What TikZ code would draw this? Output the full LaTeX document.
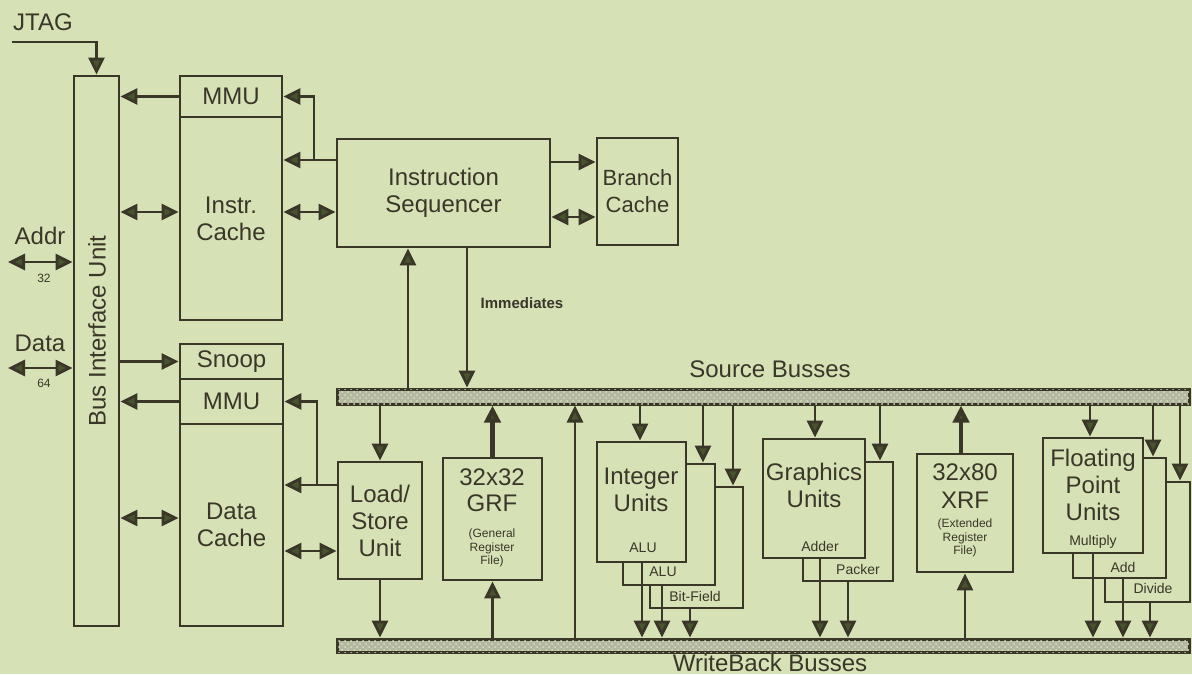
\documentclass[tikz,border=0pt]{standalone}
\usepackage{fontspec}
\setmainfont{Liberation Sans}
\usetikzlibrary{arrows.meta,positioning,fit,patterns}
\definecolor{paper}{HTML}{D6E1B6}
\definecolor{ink}{HTML}{3A3628}
\definecolor{tip}{HTML}{485330}
\definecolor{busfill}{HTML}{B4B8A2}

\begin{document}
\begin{tikzpicture}[x=0.5pt,y=-0.5pt,color=ink,line width=1.4pt,
>={Triangle[length=8.5pt,width=8pt,fill=tip]},
blk/.style={draw,fill=paper,inner sep=0pt},
bus/.style={draw,line width=1.5pt,fill=busfill,postaction={pattern=crosshatch dots,pattern color=paper},inner sep=0pt},
lbl/.style={font=\fontsize{12}{13.5}\selectfont,align=center,inner sep=1pt},
small/.style={font=\fontsize{7}{8}\selectfont,inner sep=0.5pt},
tiny/.style={font=\fontsize{6}{6.8}\selectfont,align=center,inner sep=0pt},
wire/.style={line width=1.4pt},
fat/.style={line width=2.4pt}]
\fill[paper] (0,0) rectangle (1192,674);
\useasboundingbox (0,0) rectangle (1192,674);

% bus interface and caches
\node[blk,fit={(74,76)(119,626)}] (biu) {};
\node[lbl,rotate=90] (biulbl) at (97,331) {Bus Interface Unit};
\node[lbl] (jtag) at (43,22) {JTAG};
\node[lbl] (addr) at (40,236) {Addr};
\node[small,font=\fontsize{6}{7}\selectfont] (w32) at (44,278) {32};
\node[lbl] (data) at (40,343) {Data};
\node[small,font=\fontsize{6}{7}\selectfont] (w64) at (44,383) {64};
\coordinate (jtagin) at (12,42);
\coordinate (addrend) at (8,262);
\coordinate (dataend) at (8,368);

\node[blk,fit={(180,76)(282,117)},label={[lbl]center:MMU}] (immu) {};
\node[blk,fit={(180,117)(282,320)},label={[lbl]center:Instr.\\Cache}] (icache) {};
\node[blk,fit={(337,139)(550,247)},label={[lbl]center:Instruction\\Sequencer}] (seq) {};
\node[blk,fit={(597,138)(678,245)},label={[lbl,font=\fontsize{11}{13.5}\selectfont]center:Branch\\Cache}] (bcache) {};
\node[blk,fit={(180,344)(283,379)},label={[lbl]center:Snoop}] (snoop) {};
\node[blk,fit={(180,379)(283,424)},label={[lbl]center:MMU}] (dmmu) {};
\node[blk,fit={(180,424)(283,626)},label={[lbl]center:Data\\Cache}] (dcache) {};
\node[small,font=\fontsize{7.5}{8}\selectfont\bfseries] (imm) at (522,303) {Immediates};

% busses
\node[bus,fit={(337,389)(1189,404)}] (srcbus) {};
\node[bus,fit={(337,639)(1189,652)}] (wbbus) {};
\node[lbl] (srclbl) at (770,369) {Source Busses};
\node[lbl,anchor=base] (wblbl) at (770,671) {WriteBack Busses};

% execution units
\node[blk,fit={(338,462)(422,579)},label={[lbl]center:Load/\\Store\\Unit}] (lsu) {};
\node[blk,fit={(443,458)(542,580)}] (grf) {};
\node[lbl] (grfnum) at (492,477) {32x32};
\node[lbl] (grfname) at (492,503) {GRF};
\node[tiny] (grfnote) at (492,548) {(General\\Register\\File)};

\node[blk,fit={(650,487)(743,608)}] (int3) {};
\node[blk,fit={(623,464)(715,585)}] (int2) {};
\node[blk,fit={(597,442)(686,562)}] (int1) {};
\node[lbl] (intlbl) at (641,490) {Integer\\Units};
\node[small] (alu1) at (643,548) {ALU};
\node[small] (alu2) at (663,572) {ALU};
\node[small] (bitf) at (695,596) {Bit-Field};

\node[blk,fit={(803,462)(893,581)}] (gfx2) {};
\node[blk,fit={(763,439)(865,558)}] (gfx1) {};
\node[lbl] (gfxlbl) at (814,485) {Graphics\\Units};
\node[small] (adder) at (820,546) {Adder};
\node[small] (packer) at (858,569) {Packer};

\node[blk,fit={(917,454)(1013,572)}] (xrf) {};
\node[lbl] (xrfnum) at (965,472) {32x80};
\node[lbl] (xrfname) at (965,500) {XRF};
\node[tiny] (xrfnote) at (965,538) {(Extended\\Register\\File)};

\node[blk,fit={(1105,482)(1190,602)}] (fp3) {};
\node[blk,fit={(1073,458)(1166,578)}] (fp2) {};
\node[blk,fit={(1043,438)(1143,553)}] (fp1) {};
\node[lbl] (fplbl) at (1093,485) {Floating\\Point\\Units};
\node[small] (mul) at (1093,542) {Multiply};
\node[small] (add) at (1123,567) {Add};
\node[small] (div) at (1153,588) {Divide};

% connections
\draw[wire,->] (jtagin) -| (biu.north);
\draw[wire,<->] (addrend) -- (biu.west |- addrend);
\draw[wire,<->] (dataend) -- (biu.west |- dataend);
\draw[wire,->] (immu.west) -- (biu.east |- immu.west);
\draw[wire,<->] (biu.east |- 0,212) -- (icache.west |- 0,212);
\coordinate (itap) at (314,160);
\draw[wire,->] (seq.west |- itap) -- (icache.east |- itap);
\draw[wire,->] (itap) |- (immu.east);
\draw[wire,<->] (icache.east |- 0,212) -- (seq.west |- 0,212);
\draw[wire,->] (seq.east |- 0,162) -- (bcache.west |- 0,162);
\draw[wire,<->] (seq.east |- 0,217) -- (bcache.west |- 0,217);
\draw[wire,->] (srcbus.north -| 408,0) -- (seq.south -| 408,0);
\draw[wire,->] (seq.south -| 467,0) -- (srcbus.north -| 467,0);

\draw[wire,->] (biu.east |- snoop.west) -- (snoop.west);
\draw[wire,->] (dmmu.west) -- (biu.east |- dmmu.west);
\draw[wire,<->] (biu.east |- 0,518) -- (dcache.west |- 0,518);
\coordinate (dtap) at (317,485);
\draw[wire,->] (lsu.west |- dtap) -- (dcache.east |- dtap);
\draw[wire,->] (dtap) |- (dmmu.east);
\draw[wire,<->] (dcache.east |- 0,551) -- (lsu.west |- 0,551);

\draw[wire,->] (srcbus.south -| lsu.north) -- (lsu.north);
\draw[wire,->] (lsu.south) -- (wbbus.north -| lsu.south);
\draw[fat,->] (grf.north) -- (srcbus.south -| grf.north);
\draw[wire,->] (wbbus.north -| grf.south) -- (grf.south);
\draw[wire,->] (wbbus.north -| 575,0) -- (srcbus.south -| 575,0);
\draw[fat,->] (xrf.north -| 961,0) -- (srcbus.south -| 961,0);
\draw[wire,->] (wbbus.north -| 965,0) -- (xrf.south -| 965,0);

\foreach \xx/\unit in {640/int1,703/int2,733/int3,815/gfx1,880/gfx2,1090/fp1,1153/fp2,1180/fp3}
  \draw[wire,->] (srcbus.south -| \xx,0) -- (\unit.north -| \xx,0);
\foreach \xx/\unit in {642/int1,662/int2,690/int3,820/gfx1,848/gfx2,1093/fp1,1123/fp2,1150/fp3}
  \draw[wire,->] (\unit.south -| \xx,0) -- (wbbus.north -| \xx,0);
\end{tikzpicture}
\end{document}
